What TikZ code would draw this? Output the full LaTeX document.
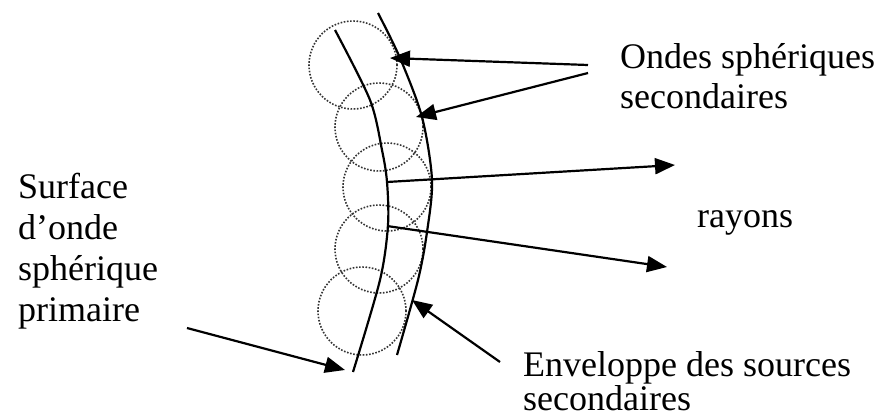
\documentclass[tikz,border=0pt]{standalone}
\usepackage{fontspec}
\setmainfont{Liberation Serif}
\usetikzlibrary{arrows.meta}

\begin{document}
\begin{tikzpicture}[x=1pt, y=1pt,
    curve/.style={line width=2.2pt},
    wavelet/.style={dash pattern=on 1.6pt off 1.6pt, line width=1.6pt, black!80},
    pointer/.style={line width=2.2pt, -{Triangle[length=20pt, width=16pt]}},
    caption/.style={font=\fontsize{36}{41}\selectfont, align=left, inner sep=0pt, anchor=base west}]
    \useasboundingbox (0,0) rectangle (883,416);

    % secondary wavelets
    \foreach \cx/\cy in {353/351, 379/289, 387/229, 379/167, 362/105}
        \draw[wavelet] (\cx,\cy) circle (44);

    % primary surface and envelope
    \draw[curve] plot[smooth] coordinates {(335,386) (370,316) (382,266) (387,234) (388,191) (380,136) (353,44)};
    \draw[curve] plot[smooth] coordinates {(378,403) (400,358) (422,299) (432,236) (427,184) (418,136) (397,61)};

    \coordinate (hit1) at (390,358);
    \coordinate (hit2) at (416,299);
    \coordinate (src1) at (387,234);
    \coordinate (src2) at (387,190);
    \coordinate (foot) at (345,46);
    \coordinate (env) at (412,116);
    \coordinate (tail1) at (588,351);
    \coordinate (tail2) at (588,343);
    \coordinate (ray1) at (675,251);
    \coordinate (ray2) at (667,149);
    \coordinate (tail3) at (187,88);
    \coordinate (tail4) at (500,54);

    % labels (base anchor sits on the last line)
    \node[caption, font=\fontsize{36}{40}\selectfont] (ondes) at (620,308) {Ondes sphériques\\secondaires};
    \node[caption] (rayons) at (697,189) {rayons};
    \node[caption] (surface) at (18,95) {Surface\\d’onde\\sphérique\\primaire};
    \node[caption, font=\fontsize{36}{31}\selectfont] (enveloppe) at (523,6) {Enveloppe des sources\\secondaires};

    \draw[pointer] (tail1) -- (hit1);
    \draw[pointer] (tail2) -- (hit2);
    \draw[pointer] (src1) -- (ray1);
    \draw[pointer] (src2) -- (ray2);
    \draw[pointer] (tail3) -- (foot);
    \draw[pointer] (tail4) -- (env);
\end{tikzpicture}
\end{document}
